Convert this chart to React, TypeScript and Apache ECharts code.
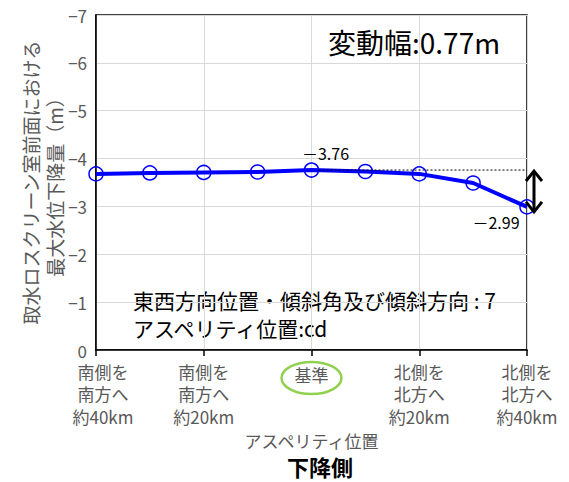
import React, { useEffect, useRef } from "react";
import * as echarts from "echarts";

// Asperity positions (every ~10 km from south 40 km to north 40 km)
const positions = ["S40", "S30", "S20", "S10", "基準", "N10", "N20", "N30", "N40"];
const tickLabels = [
  "南側を\n南方へ\n約40km",
  "",
  "南側を\n南方へ\n約20km",
  "",
  "基準",
  "",
  "北側を\n北方へ\n約20km",
  "",
  "北側を\n北方へ\n約40km",
];
// Max water level drop in front of the intake screen room (m)
const waterLevel = [-3.68, -3.7, -3.71, -3.72, -3.76, -3.73, -3.68, -3.49, -2.99];
const yTicks = [-7, -6, -5, -4, -3, -2, -1, 0];

const FONT = "'Noto Sans CJK JP', 'Noto Sans', sans-serif";
const GRAY = "#595959";

export default function App() {
  const ref = useRef<HTMLDivElement>(null);

  useEffect(() => {
    if (!ref.current) return;
    const chart = echarts.init(ref.current, null, { renderer: "svg" });

    let maxIdx = 0;
    waterLevel.forEach((v, i) => {
      if (v < waterLevel[maxIdx]) maxIdx = i;
    });
    const lastIdx = waterLevel.length - 1;
    const maxVal = waterLevel[maxIdx];
    const lastVal = waterLevel[lastIdx];
    const baseIdx = positions.indexOf("基準");
    const range = (Math.abs(maxVal) - Math.abs(lastVal)).toFixed(2);
    const fmt = (v: number) => "－" + Math.abs(v).toFixed(2);

    const seriesData = waterLevel.map((v, i) => {
      if (i === maxIdx) {
        return {
          value: v,
          label: { show: true, position: "top", offset: [14, 4], formatter: fmt(v) },
        };
      }
      if (i === lastIdx) {
        return {
          value: v,
          label: { show: true, position: "bottom", offset: [-31, -6], formatter: fmt(v) },
        };
      }
      return v;
    });

    chart.setOption({
      animation: false,
      textStyle: { fontFamily: FONT },
      grid: {
        left: 96,
        right: 42,
        top: 15,
        bottom: 132,
        show: true,
        borderColor: "#000",
        borderWidth: 1.5,
        backgroundColor: "transparent",
      },
      xAxis: {
        type: "category",
        data: positions,
        boundaryGap: false,
        name: "アスペリティ位置",
        nameLocation: "middle",
        nameGap: 81,
        nameMoveOverlap: false,
        nameTextStyle: { color: GRAY, fontSize: 17, lineHeight: 18, fontFamily: FONT },
        axisLine: { lineStyle: { color: "#000", width: 1.5 } },
        axisTick: { show: true, interval: 1, length: 6, lineStyle: { color: "#000", width: 1.5 } },
        splitLine: { show: true, interval: 1, lineStyle: { color: "#d9d9d9", width: 1 } },
        axisLabel: {
          interval: 1,
          margin: 10,
          color: GRAY,
          fontSize: 17,
          lineHeight: 22.5,
          fontFamily: FONT,
          formatter: (_v: string, i: number) => {
            if (tickLabels[i] === "基準") return "{base|基準}";
            if (i === 0) return "{first|" + tickLabels[i].split("\n").join("}\n{first|") + "}";
            return tickLabels[i];
          },
          rich: {
            base: { color: GRAY, fontSize: 17, fontFamily: FONT, padding: [7, 0, 0, 0], lineHeight: 22.5 },
            first: { color: GRAY, fontSize: 17, fontFamily: FONT, padding: [0, 0, 0, 14], lineHeight: 22.5 },
          },
        },
      },
      yAxis: {
        type: "value",
        inverse: true,
        min: -7,
        max: 0,
        interval: 1,
        name: "取水ロスクリーン室前面における\n最大水位下降量（m）",
        nameLocation: "middle",
        nameRotate: 90,
        nameGap: 30,
        nameMoveOverlap: false,
        nameTextStyle: { color: GRAY, fontSize: 19, lineHeight: 24, fontFamily: FONT },
        axisLine: { show: true, lineStyle: { color: "#000", width: 1.5 } },
        axisTick: { show: false },
        splitLine: { show: true, lineStyle: { color: "#d9d9d9", width: 1 } },
        axisLabel: {
          color: GRAY,
          fontSize: 17,
          margin: 9,
          fontFamily: FONT,
          formatter: (v: number) => (yTicks.includes(v) && v < 0 ? "−" + Math.abs(v) : String(Math.abs(v))),
        },
      },
      series: [
        {
          type: "line",
          data: seriesData,
          color: "#0000FF",
          symbol: "circle",
          symbolSize: 14,
          lineStyle: { color: "#0000FF", width: 4 },
          itemStyle: { color: "rgba(255,255,255,0)", borderColor: "#0000FF", borderWidth: 1.5 },
          label: { color: "#000", fontSize: 16, fontFamily: FONT },
          z: 3,
        },
        {
          type: "custom",
          data: [[lastIdx, lastVal]],
          clip: false,
          silent: true,
          z: 5,
          renderItem: (_params: any, api: any) => {
            const top = api.coord([maxIdx, maxVal]);
            const edge = api.coord([lastIdx, maxVal]);
            const bot = api.coord([lastIdx, lastVal]);
            const base = api.coord([baseIdx, 0]);
            const ax = edge[0] + 7;
            const t = edge[1] + 1;
            const b = bot[1] + 5;
            return {
              type: "group",
              children: [
                {
                  type: "line",
                  shape: { x1: top[0] + 7, y1: top[1], x2: edge[0], y2: edge[1] },
                  style: { stroke: "#000", lineWidth: 1, lineDash: [2, 2] },
                },
                {
                  type: "line",
                  shape: { x1: ax, y1: t + 1, x2: ax, y2: b - 1 },
                  style: { stroke: "#000", lineWidth: 3 },
                },
                {
                  type: "polyline",
                  shape: { points: [[ax - 8, t + 10], [ax, t], [ax + 8, t + 10]] },
                  style: { stroke: "#000", lineWidth: 3, fill: "none" },
                },
                {
                  type: "polyline",
                  shape: { points: [[ax - 8, b - 10], [ax, b], [ax + 8, b - 10]] },
                  style: { stroke: "#000", lineWidth: 3, fill: "none" },
                },
                {
                  type: "ellipse",
                  shape: { cx: base[0], cy: base[1] + 28, rx: 30, ry: 16 },
                  style: { stroke: "#92D050", lineWidth: 2.5, fill: "none" },
                },
              ],
            };
          },
        },
      ],
      graphic: [
        {
          type: "text",
          left: 328,
          top: 28,
          style: {
            text: "変動幅:" + range + "m",
            fontSize: 28,
            fontFamily: FONT,
            fill: "#000",
          },
        },
        {
          type: "text",
          left: 133,
          top: 286,
          style: {
            text: "東西方向位置・傾斜角及び傾斜方向 : 7\nアスペリティ位置:cd",
            fontSize: 21,
            lineHeight: 28,
            fontFamily: FONT,
            fill: "#000",
          },
        },
        {
          type: "text",
          x: 320,
          y: 466,
          style: {
            text: "下降側",
            fontSize: 22,
            lineHeight: 22,
            fontWeight: "bold",
            fontFamily: FONT,
            fill: "#000",
            align: "center",
            verticalAlign: "middle",
          },
        },
      ],
    });

    return () => chart.dispose();
  }, []);

  return (
    <div
      ref={ref}
      style={{ position: "absolute", left: 0, top: 0, width: 569, height: 482 }}
    />
  );
}
